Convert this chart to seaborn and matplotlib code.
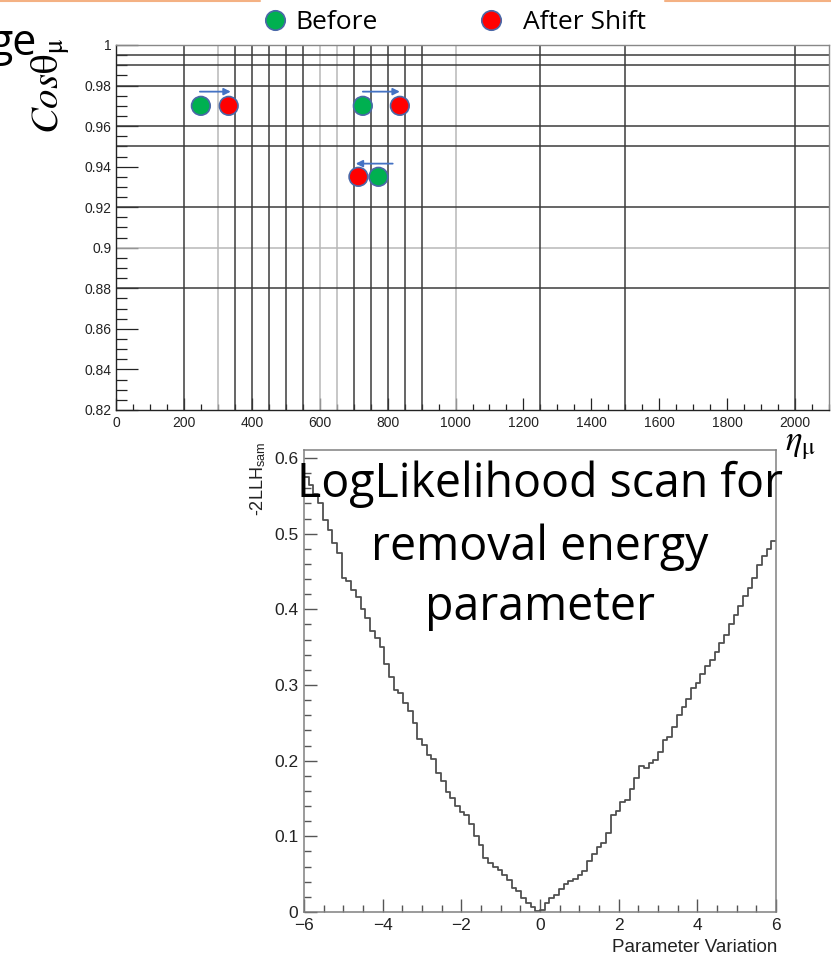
import numpy as np
import pandas as pd
import matplotlib
matplotlib.use("Agg")
import matplotlib.pyplot as plt
import seaborn as sns
from matplotlib.lines import Line2D
from matplotlib.ticker import MultipleLocator, FuncFormatter

# ---------------- data ----------------
# muon kinematics points (eta_mu, cos theta_mu)
before_eta = [250, 727, 773]
before_cos = [0.970, 0.970, 0.935]
after_eta = [332, 836, 714]
after_cos = [0.970, 0.970, 0.935]

# shift arrows drawn above the points
arrow_start = [247, 727, 815]
arrow_end = [338, 836, 706]
arrow_cos = [0.977, 0.977, 0.9415]

# binning grid lines of the top panel
vgrid_dark = [200, 350, 400, 450, 500, 550, 700, 750, 800, 850, 900, 1250, 1500, 2000]
vgrid_light = [300, 600, 650, 1000]
hgrid_dark = [0.995, 0.99, 0.98, 0.96, 0.95, 0.92, 0.88]
hgrid_light = [0.90]

# -2LLH scan vs. removal-energy parameter variation (100 bins on [-6, 6])
param_edges = [float(e) for e in np.linspace(-6, 6, 101)]
llh_values = [
    0.575, 0.565, 0.552, 0.540, 0.518, 0.505, 0.488, 0.475, 0.442, 0.438,
    0.425, 0.416, 0.400, 0.388, 0.372, 0.362, 0.350, 0.328, 0.310, 0.293,
    0.290, 0.276, 0.265, 0.250, 0.228, 0.221, 0.207, 0.202, 0.184, 0.173,
    0.158, 0.151, 0.140, 0.132, 0.128, 0.116, 0.100, 0.088, 0.071, 0.065,
    0.060, 0.055, 0.049, 0.042, 0.032, 0.028, 0.018, 0.012, 0.006, 0.001,
    0.002, 0.012, 0.018, 0.023, 0.030, 0.037, 0.041, 0.044, 0.049, 0.054,
    0.068, 0.077, 0.086, 0.091, 0.104, 0.128, 0.134, 0.146, 0.148, 0.162,
    0.177, 0.193, 0.190, 0.197, 0.201, 0.212, 0.227, 0.231, 0.245, 0.260,
    0.271, 0.282, 0.296, 0.303, 0.315, 0.325, 0.333, 0.343, 0.355, 0.366,
    0.381, 0.392, 0.405, 0.417, 0.428, 0.442, 0.458, 0.470, 0.480, 0.490,
]

# ---------------- style ----------------
sns.set_theme(style="white")
plt.rcParams['font.family'] = ['Liberation Sans', 'DejaVu Sans']
plt.rcParams['mathtext.fontset'] = 'stix'

W, H = 831, 957
fig = plt.figure(figsize=(W / 100, H / 100), dpi=100)


def box(l, t, r, b):
    return [l / W, 1 - b / H, (r - l) / W, (b - t) / H]


def fx(px):
    return px / W


def fy(py):
    return 1 - py / H


gfmt = FuncFormatter(lambda v, p: f"{v:g}")

# ---------------- top panel ----------------
ax1 = fig.add_axes(box(116, 45, 829, 410))
ax1.set_xlim(0, 2100)
ax1.set_ylim(0.82, 1.0)

for v in vgrid_light:
    ax1.axvline(v, color='#b8b8b8', lw=1.1, zorder=1)
for v in vgrid_dark:
    ax1.axvline(v, color='#3c3c3c', lw=1.1, zorder=2)
for h in hgrid_light:
    ax1.axhline(h, color='#b8b8b8', lw=1.1, zorder=1)
for h in hgrid_dark:
    ax1.axhline(h, color='#3c3c3c', lw=1.1, zorder=2)

pts = pd.DataFrame({
    'eta': before_eta + after_eta,
    'cos': before_cos + after_cos,
    'state': ['Before'] * len(before_eta) + ['After Shift'] * len(after_eta),
})
sns.scatterplot(data=pts, x='eta', y='cos', hue='state',
                palette={'Before': '#00b050', 'After Shift': '#ff0000'},
                s=180, edgecolor='#4a68a8', linewidth=1.2, legend=False,
                ax=ax1, zorder=5)

for xs, xe, yc in zip(arrow_start, arrow_end, arrow_cos):
    ax1.annotate('', xy=(xe, yc), xytext=(xs, yc),
                 arrowprops=dict(arrowstyle='-|>', color='#4472c4', lw=1.3,
                                 mutation_scale=10, shrinkA=0, shrinkB=0),
                 zorder=6)

ax1.set_xlabel('')
ax1.set_ylabel('')
ax1.xaxis.set_major_locator(MultipleLocator(200))
ax1.xaxis.set_minor_locator(MultipleLocator(50))
ax1.yaxis.set_major_locator(MultipleLocator(0.02))
ax1.yaxis.set_minor_locator(MultipleLocator(0.005))
ax1.xaxis.set_major_formatter(gfmt)
ax1.yaxis.set_major_formatter(gfmt)
ax1.tick_params(which='both', direction='in', color='#222222', labelsize=10,
                labelcolor='#222222', bottom=True, left=True, top=False, right=False)
ax1.tick_params(axis='y', which='major', length=16, width=0.9, pad=3.5)
ax1.tick_params(axis='y', which='minor', length=8, width=0.9)
ax1.tick_params(axis='x', which='major', length=9, width=0.9, pad=4)
ax1.tick_params(axis='x', which='minor', length=4.5, width=0.9)
for name, sp in ax1.spines.items():
    sp.set_visible(True)
    sp.set_color('#222222' if name in ('left', 'bottom') else '#888888')
    sp.set_linewidth(1.0)

# axis titles of the top panel
fig.text(fx(51), fy(86), r'$Cos\mathrm{θ}_{\mathrm{μ}}$', rotation=90, fontsize=28,
         ha='center', va='center', color='black')
fig.text(fx(800), fy(445), r'$\eta_{\mathrm{μ}}$', fontsize=25,
         ha='center', va='center', color='black')
fig.text(fx(37), fy(55), 'ge', fontsize=31, family='Open Sans',
         ha='right', va='baseline', color='black')

# legend row
fig.add_artist(Line2D([fx(275)], [fy(20)], transform=fig.transFigure, marker='o',
                      markersize=14, markerfacecolor='#00b050',
                      markeredgecolor='#4a68a8', markeredgewidth=1.2, linestyle='none'))
fig.text(fx(295), fy(29), 'Before', fontsize=19, family='Open Sans',
         ha='left', va='baseline', color='black')
fig.add_artist(Line2D([fx(491)], [fy(20)], transform=fig.transFigure, marker='o',
                      markersize=14, markerfacecolor='#ff0000',
                      markeredgecolor='#4a68a8', markeredgewidth=1.2, linestyle='none'))
fig.text(fx(523), fy(29), 'After Shift', fontsize=19, family='Open Sans',
         ha='left', va='baseline', color='black')

# slide accent lines along the top edge
for x0, x1 in [(0, 260), (665, 831)]:
    fig.add_artist(Line2D([fx(x0), fx(x1)], [fy(0.8), fy(0.8)],
                          transform=fig.transFigure, color='#f4b183', lw=1.5))

# ---------------- bottom panel ----------------
ax2 = fig.add_axes(box(304, 450, 776, 912))
scan = pd.DataFrame({
    'param': [0.5 * (a + b) for a, b in zip(param_edges[:-1], param_edges[1:])],
    'llh': llh_values,
})
sns.histplot(data=scan, x='param', weights='llh', bins=param_edges, element='step',
             fill=False, color='#505050', linewidth=1.3, ax=ax2)
ax2.set_xlim(-6, 6)
ax2.set_ylim(0, 0.6106)
ax2.set_xlabel('')
ax2.set_ylabel('')
ax2.xaxis.set_major_locator(MultipleLocator(2))
ax2.xaxis.set_minor_locator(MultipleLocator(0.5))
ax2.yaxis.set_major_locator(MultipleLocator(0.1))
ax2.yaxis.set_minor_locator(MultipleLocator(0.02))
ax2.xaxis.set_major_formatter(FuncFormatter(lambda v, p: f"{v:g}".replace('-', '\u2212')))
ax2.yaxis.set_major_formatter(gfmt)
ax2.tick_params(which='both', direction='in', color='#555555', labelsize=12.5,
                labelcolor='#222222', bottom=True, left=True, top=False, right=False)
ax2.tick_params(which='major', length=9.5, width=1.0, pad=4)
ax2.tick_params(which='minor', length=5, width=1.0)
for sp in ax2.spines.values():
    sp.set_visible(True)
    sp.set_color('#808080')
    sp.set_linewidth(1.1)

fig.text(fx(777), fy(952), 'Parameter Variation', fontsize=13.5,
         ha='right', va='baseline', color='#222222')
fig.text(fx(258), fy(442), r'-2LLH$_{\mathregular{sam}}$', rotation=90, fontsize=13,
         ha='center', va='top', color='#222222')

# panel title
for txt, base in [('LogLikelihood scan for', 497),
                  ('removal energy', 560),
                  ('parameter', 620)]:
    fig.text(fx(540), fy(base), txt, fontsize=33.5, family='Open Sans',
             ha='center', va='baseline', color='black')

fig.savefig('out.png', dpi=100)
